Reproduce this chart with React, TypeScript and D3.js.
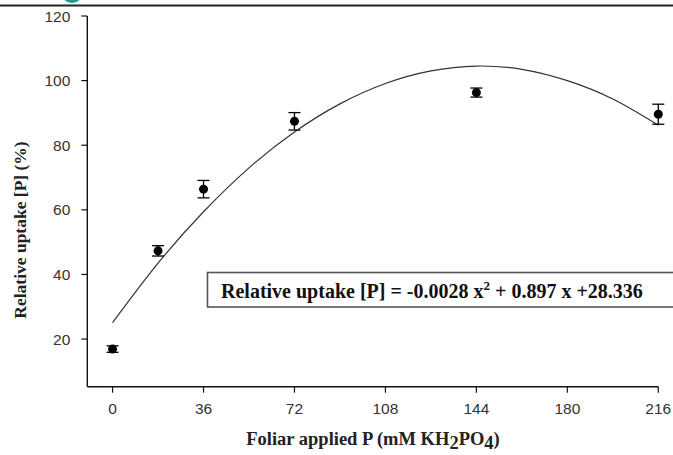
import React from 'react';
import * as d3 from 'd3';

// measured points (mean ± error)
const doses = [0, 18, 36, 72, 144, 216];
const uptake = [16.9, 47.3, 66.4, 87.4, 96.3, 89.6];
const errors = [1.0, 1.6, 2.7, 2.7, 1.4, 3.1];

// fitted trend line
const curveX = [0, 18, 36, 54, 72, 90, 108, 126, 144, 162, 180, 198, 216];
const curveY = [25.1, 43.5, 59.4, 73.0, 84.1, 92.8, 99.1, 103.0, 104.5, 103.5, 100.0, 94.3, 86.2];

const xTicks = [0, 36, 72, 108, 144, 180, 216];
const yTicks = [20, 40, 60, 80, 100, 120];

const W = 673;
const H = 455;

const App = () => {
  const x = d3.scaleLinear().domain([-10, 216]).range([87.3, 658.3]);
  const y = d3.scaleLinear().domain([5.25, 120]).range([386.7, 16]);

  const line = d3
    .line<number>()
    .x((d, i) => x(curveX[i]))
    .y(d => y(d))
    .curve(d3.curveNatural);

  const serif = '"Liberation Serif", "Times New Roman", serif';
  const sans = '"Liberation Sans", Arial, sans-serif';

  return (
    <div style={{ position: 'fixed', left: 0, top: 0 }}>
      <svg width={W} height={H} style={{ display: 'block', background: '#fff' }}>
        {/* page header remnants */}
        <circle cx={72} cy={-8} r={11} fill="#1a9c8c" />
        <line x1={0} x2={W} y1={5.5} y2={5.5} stroke="#222" strokeWidth={2} />

        {/* axes */}
        <line x1={x(-10)} x2={x(216)} y1={y(5.25)} y2={y(5.25)} stroke="#111" strokeWidth={1.4} />
        <line x1={x(-10)} x2={x(-10)} y1={y(5.25)} y2={y(120)} stroke="#111" strokeWidth={1.4} />

        {xTicks.map(t => (
          <g key={'x' + t}>
            <line x1={x(t)} x2={x(t)} y1={y(5.25)} y2={y(5.25) + 6} stroke="#111" strokeWidth={1.2} />
            <text x={x(t)} y={414} textAnchor="middle" fontFamily={sans} fontSize={15.5} fill="#333">
              {t}
            </text>
          </g>
        ))}
        {yTicks.map(t => (
          <g key={'y' + t}>
            <line x1={x(-10) - 6} x2={x(-10)} y1={y(t)} y2={y(t)} stroke="#111" strokeWidth={1.2} />
            <text x={x(-10) - 17} y={y(t) + 5.5} textAnchor="end" fontFamily={sans} fontSize={15.5} fill="#333">
              {t}
            </text>
          </g>
        ))}

        {/* axis titles */}
        <text x={373} y={445} textAnchor="middle" fontFamily={serif} fontWeight="bold" fontSize={18.5} fill="#222">
          Foliar applied P (mM KH
          <tspan dy={4}>2</tspan>
          <tspan dy={-4}>PO</tspan>
          <tspan dy={4}>4</tspan>
          <tspan dy={-4}>)</tspan>
        </text>
        <text
          transform="translate(26,230) rotate(-90)"
          textAnchor="middle"
          fontFamily={serif}
          fontWeight="bold"
          fontSize={17.5}
          fill="#222"
        >
          Relative uptake [P] (%)
        </text>

        {/* trend line */}
        <path d={line(curveY) || ''} fill="none" stroke="#333" strokeWidth={1.2} />

        {/* points with error bars */}
        {doses.map((d, i) => (
          <g key={'p' + d}>
            <line x1={x(d)} x2={x(d)} y1={y(uptake[i] - errors[i])} y2={y(uptake[i] + errors[i])} stroke="#000" strokeWidth={1.3} />
            <line x1={x(d) - 6} x2={x(d) + 6} y1={y(uptake[i] - errors[i])} y2={y(uptake[i] - errors[i])} stroke="#000" strokeWidth={1.3} />
            <line x1={x(d) - 6} x2={x(d) + 6} y1={y(uptake[i] + errors[i])} y2={y(uptake[i] + errors[i])} stroke="#000" strokeWidth={1.3} />
            <circle cx={x(d)} cy={y(uptake[i])} r={4.5} fill="#000" />
          </g>
        ))}

        {/* equation box */}
        <rect x={207.5} y={272.5} width={480} height={34.5} fill="#fff" stroke="#555" strokeWidth={1.6} />
        <text x={221} y={297.5} fontFamily={serif} fontWeight="bold" fontSize={20} fill="#111">
          Relative uptake [P] = -0.0028 x
          <tspan dy={-8} fontSize={13}>2</tspan>
          <tspan dy={8}> + 0.897 x +28.336</tspan>
        </text>
      </svg>
    </div>
  );
};

export default App;
